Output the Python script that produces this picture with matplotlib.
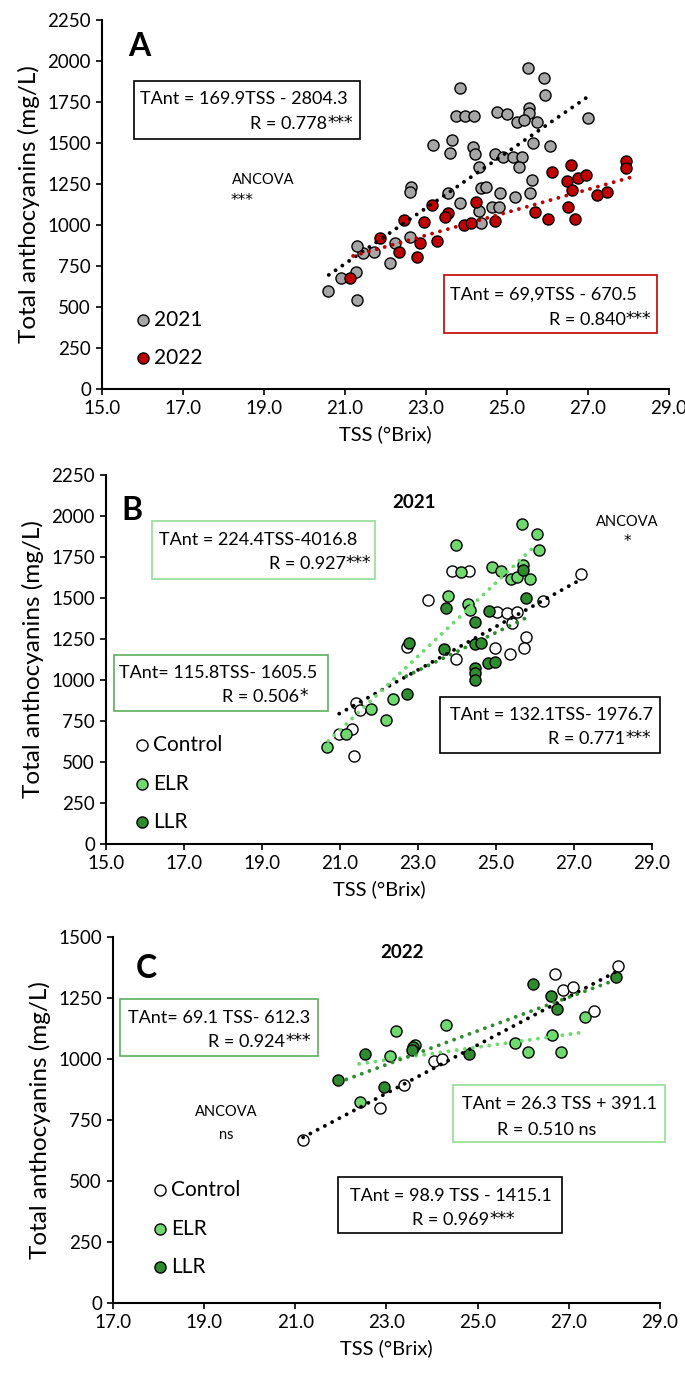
import numpy as np
import matplotlib
matplotlib.use("Agg")
import matplotlib.pyplot as plt
from matplotlib.patches import Rectangle

plt.rcParams['font.family'] = ['Lato', 'DejaVu Sans']

# ---- panel A: both seasons
tss21 = [25.51, 25.91, 25.94, 23.85, 23.74, 23.96, 24.19, 24.76, 25.00, 25.55, 25.55, 25.25, 25.41,
         25.74, 26.99, 23.18, 23.65, 23.59, 24.16, 24.22, 24.70, 24.89, 25.14, 25.37, 25.30, 25.64,
         26.05, 24.32, 22.63, 22.61, 23.55, 24.35, 24.49, 25.61, 25.57, 24.83, 25.20, 23.85, 24.63,
         24.80, 24.32, 24.35, 22.61, 22.23, 21.71, 21.45, 21.29, 22.11, 21.27, 20.89, 20.58, 21.29]
tant21 = [1955, 1894, 1793, 1833, 1665, 1665, 1665, 1691, 1677, 1711, 1685, 1630, 1640,
          1630, 1651, 1488, 1518, 1437, 1474, 1433, 1433, 1417, 1417, 1417, 1356, 1498,
          1482, 1356, 1234, 1203, 1197, 1226, 1230, 1274, 1193, 1193, 1173, 1136, 1108,
          1112, 1087, 1012, 929, 888, 833, 827, 872, 766, 711, 675, 598, 543]
tss22 = [27.93, 27.93, 26.58, 26.11, 26.75, 26.95, 26.49, 26.61, 27.22, 27.46, 26.51, 25.70, 26.01,
         26.68, 24.23, 24.70, 23.94, 24.11, 23.54, 23.47, 23.14, 22.96, 22.46, 22.84, 23.27, 22.34,
         22.77, 21.86, 21.12]
tant22 = [1390, 1346, 1364, 1323, 1288, 1305, 1270, 1213, 1181, 1201, 1112, 1077, 1035,
          1035, 1142, 1026, 1000, 1010, 1075, 1051, 1122, 1020, 1029, 892, 900, 833,
          807, 921, 675]

# ---- panel B: 2021 by treatment
b_ctl_tss = [27.17, 23.88, 24.31, 23.26, 26.21, 25.03, 25.27, 25.54, 25.41, 25.76, 25.71, 24.97,
             25.35, 23.97, 22.71, 21.41, 21.51, 21.32, 20.98, 21.37]
b_ctl_tant = [1647, 1664, 1664, 1489, 1481, 1415, 1407, 1413, 1350, 1263, 1194, 1194,
              1159, 1127, 1204, 858, 818, 704, 669, 537]
b_elr_tss = [25.66, 26.06, 26.09, 23.98, 24.89, 25.14, 25.70, 25.38, 25.53, 25.87, 24.09, 23.77,
             24.27, 24.33, 22.35, 21.79, 22.19, 21.15, 20.66]
b_elr_tant = [1952, 1893, 1792, 1826, 1690, 1666, 1702, 1615, 1631, 1615, 1660, 1513,
              1462, 1424, 883, 824, 757, 669, 590]
b_llr_tss = [25.70, 25.78, 23.73, 24.82, 24.46, 22.77, 23.66, 24.46, 24.62, 24.79, 24.97, 24.46,
             24.46, 24.46, 22.71]
b_llr_tant = [1672, 1497, 1438, 1422, 1353, 1228, 1192, 1218, 1225, 1102, 1109, 1076,
              1041, 1001, 917]

# ---- panel C: 2022 by treatment
c_ctl_tss = [26.69, 26.87, 27.09, 27.56, 24.05, 24.22, 23.38, 22.85, 21.17, 28.07]
c_ctl_tant = [1350, 1281, 1295, 1195, 993, 998, 895, 799, 669, 1380]
c_elr_tss = [23.21, 24.30, 23.62, 23.07, 25.82, 26.11, 26.64, 26.82, 27.35, 22.41]
c_elr_tant = [1113, 1139, 1059, 1011, 1066, 1027, 1100, 1027, 1172, 822]
c_llr_tss = [26.22, 26.61, 26.74, 22.53, 23.58, 23.55, 24.80, 21.94, 22.94, 28.04]
c_llr_tant = [1309, 1259, 1206, 1020, 1049, 1038, 1020, 912, 885, 1336]

# regression lines: slope, intercept, x from, x to
fitA = {'2021': (169.9, -2804.3, 20.6, 27.1), '2022': (69.9, -670.5, 21.2, 28.1)}
fitB = {'Control': (132.1, -1976.7, 20.98, 27.1), 'ELR': (224.4, -4016.8, 20.7, 26.05),
        'LLR': (115.8, -1605.5, 22.7, 25.8)}
fitC = {'Control': (98.9, -1415.1, 21.17, 28.07), 'ELR': (26.3, 391.1, 22.4, 27.35),
        'LLR': (69.1, -612.3, 21.95, 28.05)}

GRAY = '#a6a6a6'
RED = '#c00000'
LGREEN = '#6fd86f'
DGREEN = '#2e8b2e'
LBOX = '#95dc95'
MBOX = '#5cb05c'

W, H = 685, 1377
fig = plt.figure(figsize=(W / 100, H / 100), dpi=100)
renderer = fig.canvas.get_renderer()


def fx(x):
    return x / W


def fy(y):
    return 1 - y / H


def make_ax(left, right, top, bottom, xlim, ylim, xticks, yticks):
    ax = fig.add_axes([fx(left), fy(bottom), (right - left) / W, (bottom - top) / H])
    ax.set_xlim(*xlim)
    ax.set_ylim(*ylim)
    ax.set_xticks(xticks)
    ax.set_xticklabels(['%.1f' % t for t in xticks])
    ax.set_yticks(yticks)
    ax.spines['top'].set_visible(False)
    ax.spines['right'].set_visible(False)
    for s in ['left', 'bottom']:
        ax.spines[s].set_linewidth(1.5)
    ax.tick_params(direction='out', length=4, width=1.2, labelsize=13.5, pad=4)
    ax.set_xlabel('TSS (°Brix)', fontsize=14.5, labelpad=6)
    ax.set_ylabel('Total anthocyanins (mg/L)', fontsize=17.5, labelpad=5)
    return ax


def pts(ax, x, y, c, z=3):
    ax.scatter(x, y, s=64, c=c, edgecolors='black', linewidths=1.0, zorder=z, clip_on=False)


def trend(ax, fit, c):
    a, b, x0, x1 = fit
    xs = np.array([x0, x1])
    ax.plot(xs, a * xs + b, color=c, lw=2.8, linestyle=(0, (0.01, 2.1)),
            dash_capstyle='round', zorder=5)


def box(x0, y0, x1, y1, ec, lw=1.2):
    fig.patches.append(Rectangle((fx(x0), fy(y1)), (x1 - x0) / W, (y1 - y0) / H,
                                 transform=fig.transFigure, fill=False, ec=ec, lw=lw))


def txt(x, y, s, size=13, ha='left', **kw):
    return fig.text(fx(x), fy(y), s, fontsize=size, ha=ha, va='center', **kw)


def rline(x, y, s, stars, size=13, ha='right'):
    # R value with significance stars; stars drawn in DejaVu so they are readable
    if ha == 'left':
        t = txt(x, y, s, size=size)
        x = t.get_window_extent(renderer).x1
        txt(x, y - 1, stars, size=size * 0.95, ha='left', family='DejaVu Sans')
        return
    if stars:
        st = txt(x, y - 1, stars, size=size * 0.95, ha='right', family='DejaVu Sans')
        x = st.get_window_extent(renderer).x0
    txt(x, y, s, size=size, ha='right')


def legend_item(x, y, c, label):
    fig.add_artist(plt.Line2D([fx(x)], [fy(y)], marker='o', ms=8, mfc=c, mec='black',
                              mew=1.0, transform=fig.transFigure))
    txt(x + 11, y, label, size=15)


xt = np.arange(15, 29.1, 2)

# ===== A
axA = make_ax(102, 669, 20, 389, (15, 29), (0, 2250), xt, np.arange(0, 2251, 250))
pts(axA, tss21, tant21, GRAY)
pts(axA, tss22, tant22, RED, z=4)
trend(axA, fitA['2021'], 'black')
trend(axA, fitA['2022'], RED)
txt(128, 46, 'A', size=23, weight='bold')
box(134, 81, 360, 139, 'black')
txt(140, 99, 'TAnt = 169.9TSS - 2804.3')
rline(353, 124, 'R = 0.778', '***')
txt(232, 180, 'ANCOVA', size=10.5)
txt(231, 200, '***', size=11, family='DejaVu Sans')
box(444, 275, 657, 333, RED)
txt(450, 295, 'TAnt = 69,9TSS - 670.5')
rline(651, 320, 'R = 0.840', '***')
legend_item(143, 320, GRAY, '2021')
legend_item(143, 358, RED, '2022')

# ===== B
axB = make_ax(106, 652, 475, 844, (15, 29), (0, 2250), xt, np.arange(0, 2251, 250))
pts(axB, b_ctl_tss, b_ctl_tant, 'white')
pts(axB, b_elr_tss, b_elr_tant, LGREEN, z=4)
pts(axB, b_llr_tss, b_llr_tant, DGREEN, z=4.5)
trend(axB, fitB['Control'], 'black')
trend(axB, fitB['ELR'], LGREEN)
trend(axB, fitB['LLR'], DGREEN)
txt(121, 511, 'B', size=23, weight='bold')
txt(414, 503, '2021', size=13.5, ha='center', weight='bold')
txt(627, 522, 'ANCOVA', size=10.5, ha='center')
txt(627, 542, '*', size=11, ha='center', family='DejaVu Sans')
box(152, 521, 375, 579, LBOX)
txt(159, 540, 'TAnt = 224.4TSS-4016.8')
rline(371, 564, 'R = 0.927', '***')
box(114, 655, 328, 711, MBOX)
txt(119, 673, 'TAnt= 115.8TSS- 1605.5')
rline(308, 697, 'R = 0.506', '*')
box(440, 697, 660, 753, 'black')
txt(450, 715, 'TAnt = 132.1TSS- 1976.7')
rline(651, 739, 'R = 0.771', '***')
legend_item(142, 745, 'white', 'Control')
legend_item(142, 784, LGREEN, 'ELR')
legend_item(142, 822, DGREEN, 'LLR')

# ===== C
xtc = np.arange(17, 29.1, 2)
axC = make_ax(113, 660, 937, 1303, (17, 29), (0, 1500), xtc, np.arange(0, 1501, 250))
pts(axC, c_ctl_tss, c_ctl_tant, 'white')
pts(axC, c_elr_tss, c_elr_tant, LGREEN, z=4)
pts(axC, c_llr_tss, c_llr_tant, DGREEN, z=4.5)
trend(axC, fitC['Control'], 'black')
trend(axC, fitC['ELR'], LGREEN)
trend(axC, fitC['LLR'], DGREEN)
txt(136, 968, 'C', size=23, weight='bold')
txt(402, 952, '2022', size=13.5, ha='center', weight='bold')
box(120, 999, 318, 1056, MBOX)
txt(128, 1018, 'TAnt= 69.1 TSS- 612.3')
rline(311, 1042, 'R = 0.924', '***')
txt(226, 1112, 'ANCOVA', size=10.5, ha='center')
txt(226, 1135, 'ns', size=10.5, ha='center')
box(453, 1085, 665, 1142, LBOX)
txt(462, 1104, 'TAnt = 26.3 TSS + 391.1')
txt(497, 1130, 'R = 0.510 ns')
box(338, 1177, 562, 1233, 'black')
txt(350, 1196, 'TAnt = 98.9 TSS - 1415.1')
rline(412, 1220, 'R = 0.969', '***', ha='left')
legend_item(160, 1190, 'white', 'Control')
legend_item(160, 1229, LGREEN, 'ELR')
legend_item(160, 1267, DGREEN, 'LLR')

fig.savefig('out.png', dpi=100)
